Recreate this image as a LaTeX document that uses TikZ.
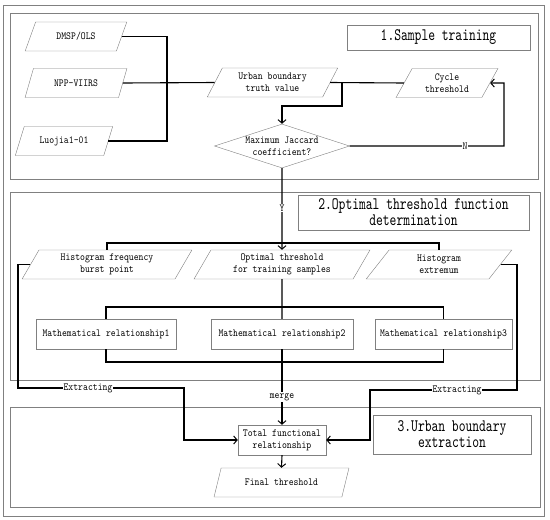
\documentclass[tikz,border=0pt]{standalone}
\usepackage{fontspec}
\newfontfamily\smallfam[FakeStretch=0.86]{lmmono10-regular.otf}
\newfontfamily\titlefam[FakeStretch=0.74]{lmmono10-regular.otf}
\usetikzlibrary{shapes.geometric,arrows.meta}
\begin{document}
\begin{tikzpicture}[x=1pt,y=-1pt,
  sm/.style={font=\smallfam\fontsize{10.8}{12}\selectfont},
  para/.style={sm,trapezium,trapezium left angle=63,trapezium right angle=117,
    trapezium stretches=true,draw=gray,fill=white,minimum height=29pt,inner sep=1pt,align=center},
  rbox/.style={sm,rectangle,draw=gray,fill=white,minimum height=30pt,inner sep=1pt,align=center},
  title/.style={rectangle,draw=gray,fill=white,inner sep=1pt,align=center,
    font=\titlefam\fontsize{17.5}{16}\selectfont},
  sect/.style={draw=gray,line width=0.8pt},
  conn/.style={draw=black,line width=1.1pt},
  arr/.style={conn,-{Straight Barb[length=3.5pt,width=8pt,line width=1pt]}},
  lbl/.style={sm,fill=white,inner sep=1pt}]
\useasboundingbox (0,0) rectangle (550,520);
\fill[white] (0,0) rectangle (550,520);
% frames
\draw[sect] (3,5) rectangle (544,516);
\draw[sect] (10,13) rectangle (538,179);
\draw[sect] (10,192) rectangle (540,380);
\draw[sect] (10,407) rectangle (540,507);
% titles
\node[title,minimum width=183pt,minimum height=25pt] (t1) at (438.5,37.5) {1.Sample training};
\node[title,minimum width=231pt,minimum height=35pt] (t2) at (413.5,212.5) {2.Optimal threshold function\\determination};
\node[title,minimum width=158pt,minimum height=39pt] (t3) at (452,434.5) {3.Urban boundary\\extraction};
% section 1 nodes
\node[para,minimum width=102pt] (dmsp) at (76,36.5) {DMSP/OLS};
\node[para,minimum width=102pt] (npp) at (76,83) {NPP-VIIRS};
\node[para,minimum width=98pt] (luo) at (64,141) {Luojia1-01};
\node[para,minimum width=131pt] (urban) at (272.5,82.5) {Urban boundary\\truth value};
\node[para,minimum width=102pt] (cycle) at (447,83) {Cycle\\threshold};
\node[sm,diamond,draw=gray,fill=white,aspect=3.07,inner sep=0pt,align=center,
  minimum width=135pt,minimum height=44pt] (jac) at (282,146) {Maximum Jaccard\\coefficient?};
% section 2 nodes
\node[para,minimum width=170pt] (hf) at (107,264.5) {Histogram frequency\\burst point};
\node[para,minimum width=176pt] (opt) at (282,264.5) {Optimal threshold\\for training samples};
\node[para,minimum width=146pt] (he) at (439,264.5) {Histogram\\extremum};
\node[rbox,minimum width=140pt] (m1) at (106,334) {Mathematical relationship1};
\node[rbox,minimum width=142pt] (m2) at (282,334) {Mathematical relationship2};
\node[rbox,minimum width=137pt] (m3) at (443.5,334) {Mathematical relationship3};
% section 3 nodes
\node[rbox,minimum width=88pt] (tot) at (282,440) {Total functional\\relationship};
\node[para,minimum width=135pt] (fin) at (281.5,482.5) {Final threshold};
% coordinates
\coordinate (bus) at (167,141);
\coordinate (u1) at (342,106);
\coordinate (n1) at (504,83);
\coordinate (h1) at (282,243);
\coordinate (h2) at (282,307);
\coordinate (h3) at (282,362);
\coordinate (l1) at (18,388);
\coordinate (l2) at (184,440);
\coordinate (r1) at (517,390);
\coordinate (r2) at (370,440);
% connectors section 1
\draw[conn] (dmsp.east) -| (bus) -- (luo.east);
\draw[conn] (npp.east) -- (urban.west);
\draw[conn] (cycle.west) -- (urban.east);
\draw[arr] (urban.east) -| (u1) -| (jac.north);
\draw[arr] (jac.east) -| (n1) -- (cycle.east);
\node[lbl] (lN) at (465,146) {N};
% section 2
\draw[arr] (jac.south) -- (opt.north);
\node[lbl] (lY) at (282,208) {Y};
\draw[conn] (hf.north) -- (hf.north |- h1) -- (he.north |- h1) -- (he.north);
\draw[conn] (opt.south) -- (m2.north);
\draw[conn] (m1.north) -- (m1.north |- h2) -- (m3.north |- h2) -- (m3.north);
\draw[conn] (m1.south) -- (m1.south |- h3) -- (m3.south |- h3) -- (m3.south);
\draw[arr] (m2.south) -- (tot.north);
\node[lbl] (lm) at (282,397) {merge};
% extracting loops
\draw[arr] (hf.west) -| (l1) -| (l2) -- (tot.west);
\draw[arr] (he.east) -| (r1) -| (r2) -- (tot.east);
\node[lbl] (le1) at (88,388) {Extracting};
\node[lbl] (le2) at (457,390) {Extracting};
\draw[arr] (tot.south) -- (fin.north);
\end{tikzpicture}
\end{document}
